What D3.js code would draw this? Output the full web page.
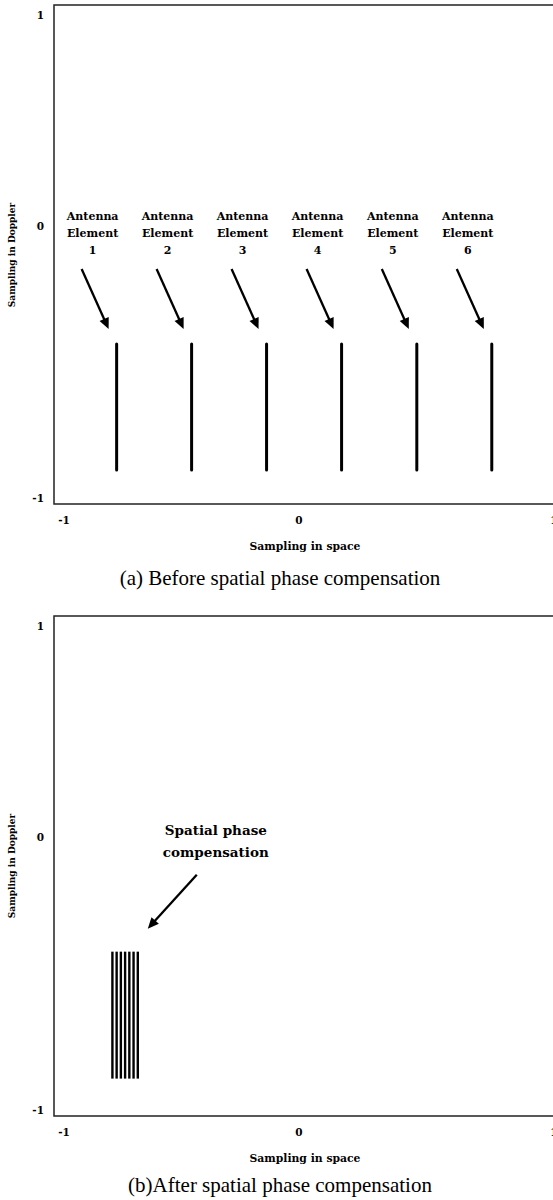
<!DOCTYPE html>
<html>
<head>
<meta charset="utf-8">
<script src="https://cdn.jsdelivr.net/npm/d3@7"></script>
<style>
  html, body { margin: 0; padding: 0; background: #fff; }
  svg { display: block; }
</style>
</head>
<body>
<svg id="chart" width="553" height="1200"></svg>
<script>
// Antenna element samples on the space axis, before compensation
const elementNames = ["1", "2", "3", "4", "5", "6"];
const elementSpaceBefore = [-0.776, -0.457, -0.138, 0.167, 0.462, 0.756];
const dopplerSpanBefore = [-0.434, -0.897];

// Same samples gathered together after spatial phase compensation
const elementSpaceAfter = [-0.794, -0.776, -0.758, -0.740, -0.722, -0.704, -0.686];
const dopplerSpanAfter = [-0.42, -0.885];

// Axis ticks and texts
const tickValues = [-1, 0, 1];
const tickLabels = ["-1", "0", "1"];
const xTitle = "Sampling in space";
const yTitle = "Sampling in Doppler";
const captions = ["(a) Before spatial phase compensation", "(b)After spatial phase compensation"];
const compensationNote = ["Spatial phase", "compensation"];

const svg = d3.select("#chart");
const boldSerif = "'DejaVu Serif', serif";
const plainSerif = "'Liberation Serif', 'Times New Roman', serif";

function arrow(g, x1, y1, x2, y2) {
  const dx = x2 - x1, dy = y2 - y1;
  const len = Math.hypot(dx, dy);
  const ux = dx / len, uy = dy / len;
  const headLen = 11, headHalf = 5;
  const bx = x2 - ux * headLen, by = y2 - uy * headLen;
  g.append("line")
    .attr("x1", x1).attr("y1", y1)
    .attr("x2", bx + ux * 1).attr("y2", by + uy * 1)
    .attr("stroke", "#000").attr("stroke-width", 2.3);
  g.append("path")
    .attr("d", `M${x2},${y2}L${bx - uy * headHalf},${by + ux * headHalf}L${bx + uy * headHalf},${by - ux * headHalf}Z`)
    .attr("fill", "#000");
}

function drawPanel(top, bottom, captionY, idx) {
  const g = svg.append("g");
  const x = d3.scaleLinear().domain(tickValues).range([64, 299, 554]);
  const y = d3.scaleLinear().domain(tickValues).range([bottom - 6, top + 221, top + 10]);
  const left = 54, right = 562;

  // frame: top, left and bottom edges (right side runs off the page)
  g.append("path")
    .attr("d", `M${right},${top}H${left}V${bottom}H${right}`)
    .attr("fill", "none").attr("stroke", "#222").attr("stroke-width", 1.5);

  // x tick labels
  g.selectAll(".xt").data(tickValues).join("text")
    .attr("x", d => x(d)).attr("y", bottom + 16)
    .attr("text-anchor", "middle").attr("dominant-baseline", "central")
    .attr("font-family", boldSerif).attr("font-weight", "bold").attr("font-size", 10.5)
    .text((d, i) => tickLabels[i]);

  // y tick labels
  g.selectAll(".yt").data(tickValues).join("text")
    .attr("x", 44).attr("y", d => y(d))
    .attr("text-anchor", "end").attr("dominant-baseline", "central")
    .attr("font-family", boldSerif).attr("font-weight", "bold").attr("font-size", 10.5)
    .text((d, i) => tickLabels[i]);

  // axis titles
  g.append("text")
    .attr("x", 305).attr("y", bottom + 42)
    .attr("text-anchor", "middle").attr("dominant-baseline", "central")
    .attr("font-family", boldSerif).attr("font-weight", "bold").attr("font-size", 10.8)
    .text(xTitle);
  g.append("text")
    .attr("transform", `translate(12,${top + 250}) rotate(-90)`)
    .attr("text-anchor", "middle").attr("dominant-baseline", "central")
    .attr("font-family", boldSerif).attr("font-weight", "bold").attr("font-size", 9)
    .text(yTitle);

  // caption
  g.append("text")
    .attr("x", 280).attr("y", captionY)
    .attr("text-anchor", "middle").attr("dominant-baseline", "central")
    .attr("font-family", plainSerif).attr("font-size", 21)
    .text(captions[idx]);

  return { g, x, y };
}

// (a) before compensation
{
  const { g, x, y } = drawPanel(5, 504, 578, 0);
  const yTop = y(dopplerSpanBefore[0]);
  g.selectAll(".el").data(elementSpaceBefore).join("line")
    .attr("x1", d => x(d)).attr("x2", d => x(d))
    .attr("y1", yTop).attr("y2", y(dopplerSpanBefore[1]))
    .attr("stroke", "#000").attr("stroke-width", 3).attr("stroke-linecap", "round");

  elementSpaceBefore.forEach((d, i) => {
    const cx = x(d);
    const tipX = cx - 8, tipY = yTop - 15;
    arrow(g, tipX - 27, tipY - 60, tipX, tipY);
    const lab = g.append("text")
      .attr("text-anchor", "middle")
      .attr("font-family", boldSerif).attr("font-weight", "bold").attr("font-size", 11)
      .attr("dominant-baseline", "central");
    ["Antenna", "Element", elementNames[i]].forEach((t, k) => {
      lab.append("tspan").attr("x", cx - 24).attr("y", yTop - 128 + k * 17).text(t);
    });
  });
}

// (b) after compensation
{
  const { g, x, y } = drawPanel(616, 1116, 1185, 1);
  const yTop = y(dopplerSpanAfter[0]);
  g.selectAll(".el").data(elementSpaceAfter).join("line")
    .attr("x1", d => x(d)).attr("x2", d => x(d))
    .attr("y1", yTop).attr("y2", y(dopplerSpanAfter[1]))
    .attr("stroke", "#000").attr("stroke-width", 2.4);

  const lastX = x(elementSpaceAfter[elementSpaceAfter.length - 1]);
  const tipX = lastX + 10, tipY = yTop - 23;
  arrow(g, tipX + 49, tipY - 54, tipX, tipY);
  const note = g.append("text")
    .attr("text-anchor", "middle")
    .attr("font-family", boldSerif).attr("font-weight", "bold").attr("font-size", 13.5)
    .attr("dominant-baseline", "central");
  compensationNote.forEach((t, k) => {
    note.append("tspan").attr("x", tipX + 68).attr("y", yTop - 122 + k * 22).text(t);
  });
}
</script>
</body>
</html>
